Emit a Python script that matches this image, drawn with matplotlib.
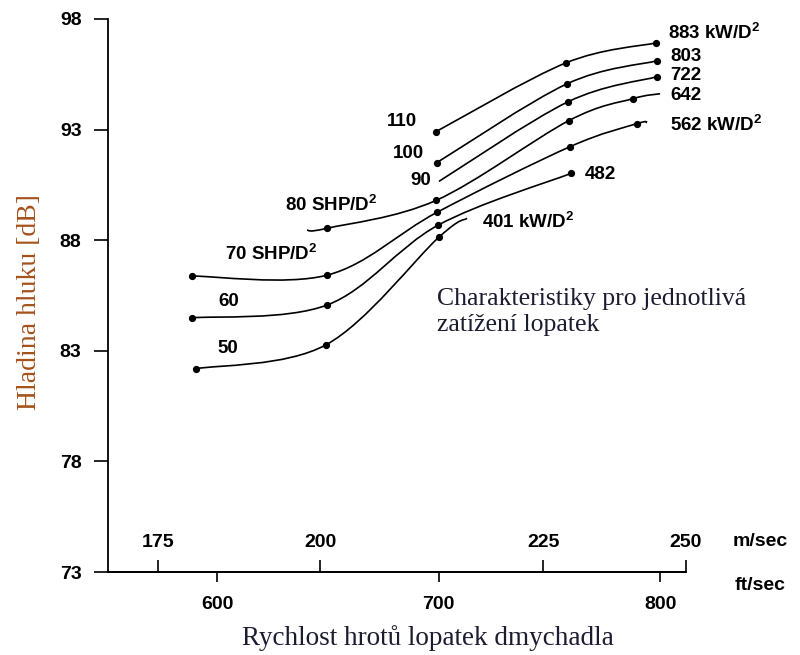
import numpy as np
import matplotlib
matplotlib.use("Agg")
import matplotlib.pyplot as plt
from matplotlib.path import Path
from matplotlib.patches import PathPatch

plt.rcParams["font.family"] = ["Liberation Sans", "DejaVu Sans"]
plt.rcParams["font.weight"] = "bold"
plt.rcParams["mathtext.fontset"] = "custom"
plt.rcParams["mathtext.rm"] = "Liberation Sans:bold"
plt.rcParams["mathtext.default"] = "rm"

# blade tip speed [ft/sec] and noise level [dB] for each blade loading curve
x_50 = [590.5, 649.2, 700.2, 712.9]
y_50 = [82.19, 83.27, 88.14, 88.99]
x_60 = [588.7, 649.7, 699.8, 759.8]
y_60 = [84.49, 85.07, 88.68, 91.02]
x_70 = [588.7, 649.7, 699.3, 759.4, 789.6, 794.1]
y_70 = [86.38, 86.42, 89.26, 92.23, 93.27, 93.32]
x_80 = [640.6, 649.7, 698.9, 758.9, 787.8, 800.0]
y_80 = [88.45, 88.54, 89.80, 93.41, 94.40, 94.62]
x_90 = [700.2, 758.5, 798.6]
y_90 = [90.66, 94.26, 95.39]
x_100 = [699.3, 758.0, 798.6]
y_100 = [91.51, 95.07, 96.11]
x_110 = [698.9, 757.6, 798.2]
y_110 = [92.91, 96.02, 96.92]

# which points carry a dot
dots_50 = [0, 1, 2]
dots_60 = [0, 1, 2, 3]
dots_70 = [0, 1, 2, 3, 4]
dots_80 = [1, 2, 3, 4]
dots_90 = [1, 2]
dots_100 = [0, 1, 2]
dots_110 = [0, 1, 2]

# labels: (text, x [ft/sec], y [dB])
curve_labels = [
    ("883 kW/D$^2$", 803.6, 97.37),
    ("803", 804.5, 96.29),
    ("722", 804.5, 95.43),
    ("642", 804.5, 94.53),
    ("562 kW/D$^2$", 804.5, 93.22),
    ("482", 766.1, 90.96),
    ("401 kW/D$^2$", 719.6, 88.84),
    ("110", 676.7, 93.35),
    ("100", 679.5, 91.91),
    ("90", 687.1, 90.69),
    ("80 SHP/D$^2$", 630.7, 89.6),
    ("70 SHP/D$^2$", 603.6, 87.4),
    ("60", 600.5, 85.23),
    ("50", 600.0, 83.1),
]

ft_ticks = [600, 700, 800]
ms_ticks_pos = [573.4, 646.5, 747.2, 811.5]
ms_labels = ["175", "200", "225", "250"]
y_ticks = [73, 78, 83, 88, 93, 98]


def smooth_path(xs, ys):
    pts = np.column_stack([xs, ys])
    n = len(pts)
    verts = [pts[0]]
    codes = [Path.MOVETO]
    for i in range(n - 1):
        p0 = pts[i - 1] if i > 0 else pts[i]
        p1, p2 = pts[i], pts[i + 1]
        p3 = pts[i + 2] if i + 2 < n else pts[i + 1]
        verts += [p1 + (p2 - p0) / 6, p2 - (p3 - p1) / 6, p2]
        codes += [Path.CURVE4] * 3
    return Path(verts, codes)


fig = plt.figure(figsize = (8, 6.55), dpi = 100)
ax = fig.add_axes([0.135, 0.1267, 0.7225, 0.8443])

series = [(x_50, y_50, dots_50), (x_60, y_60, dots_60), (x_70, y_70, dots_70),
          (x_80, y_80, dots_80), (x_90, y_90, dots_90), (x_100, y_100, dots_100),
          (x_110, y_110, dots_110)]

for xs, ys, dots in series:
    ax.add_patch(PathPatch(smooth_path(xs, ys), fill = False, lw = 1.2, color = "black"))
    ax.plot(np.array(xs)[dots], np.array(ys)[dots], "o", ms = 4.2, color = "black")

for txt, x, y in curve_labels:
    ax.text(x, y, txt, fontsize = 13.5, fontweight = "bold", ha = "left", va = "center")

ax.text(699.3, 84.75, "Charakteristiky pro jednotlivá\nzatížení lopatek",
        family = "Liberation Serif", fontweight = "normal", fontsize = 18.5,
        color = "#1c1c30", linespacing = 1.25, ha = "left", va = "center")

ax.set_xlim(550.8, 811.7)
ax.set_ylim(73, 98)

for s in ["top", "right"]:
    ax.spines[s].set_visible(False)
for s in ["left", "bottom"]:
    ax.spines[s].set_linewidth(1.3)

ax.set_yticks(y_ticks)
ax.set_xticks(ft_ticks)
ax.tick_params(axis = "y", direction = "out", length = 10, width = 1.2,
               labelsize = 14, pad = 9)
ax.tick_params(axis = "x", direction = "out", length = 7, width = 1.2,
               labelsize = 14, pad = 10)

sec = ax.secondary_xaxis(0)
sec.set_alignment("top")
sec.set_xticks(ms_ticks_pos, labels = ms_labels)
sec.tick_params(axis = "x", direction = "out", length = 9, width = 1.2,
                labelsize = 14, pad = 6)
sec.spines["top"].set_linewidth(1.3)

fig.text(733 / 800, 1 - 541 / 655, "m/sec", fontsize = 14, fontweight = "bold",
         ha = "left", va = "center")
fig.text(735 / 800, 1 - 586 / 655, "ft/sec", fontsize = 14, fontweight = "bold",
         ha = "left", va = "center")

fig.text(428 / 800, 1 - 638 / 655, "Rychlost hrotů lopatek dmychadla",
         family = "Liberation Serif", fontweight = "normal", fontsize = 19.5,
         color = "#1c1c30", ha = "center", va = "center")
fig.text(30 / 800, 1 - 302 / 655, "Hladina hluku [dB]",
         family = "Liberation Serif", fontweight = "normal", fontsize = 20,
         color = "#a4521c", rotation = 90, ha = "center", va = "center")

fig.savefig("out.png", dpi = 100, facecolor = "w")
